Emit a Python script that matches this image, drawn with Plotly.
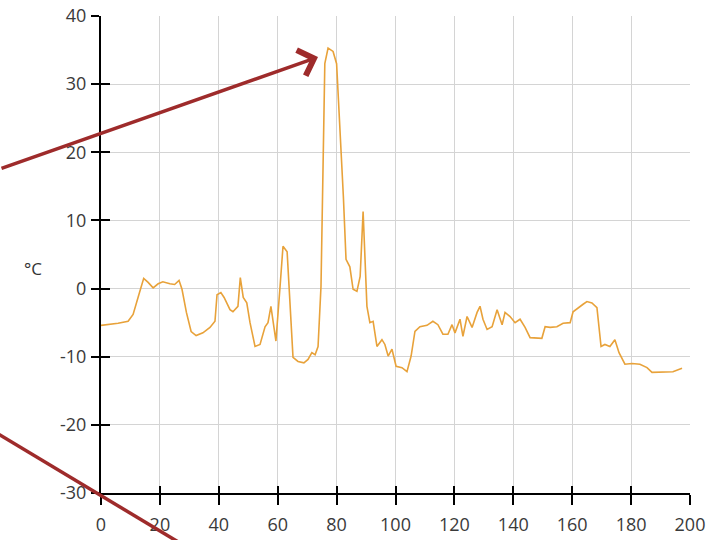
import plotly.graph_objects as go

# Series
x_vals = [0, 5.8, 9.2, 10.9, 13.2, 14.5, 16, 17.7, 19.4, 21,
          23.4, 25, 26.5, 27.5, 29, 30.6, 32.3, 34.6, 37, 38.7,
          39.4, 40.7, 41.8, 43.8, 44.8, 46.5, 47.3, 48.3, 49.5, 50.6,
          52.3, 54, 55.7, 56.7, 57.7, 58.4, 59.4, 60.8, 61.8, 63.2,
          64.2, 65.2, 66.9, 68.9, 70.3, 71.6, 72.7, 73.7, 74.7, 75.4,
          76, 77.1, 78.8, 80, 81.2, 82.3, 83.2, 84.5, 85.6, 86.9,
          88, 89, 90.3, 91.3, 92.4, 93.7, 95.4, 96.4, 97.5, 98.8,
          100.2, 102.2, 103.9, 105.3, 106.6, 108.3, 110.7, 112.7, 114.4, 116.1,
          117.8, 119.2, 120.2, 121.9, 122.9, 124.3, 126, 127.7, 128.7, 129.7,
          131.1, 132.8, 134.5, 136.2, 137.2, 138.9, 140.6, 142.3, 144, 145.7,
          149.7, 150.8, 152.5, 154.8, 156.9, 159.3, 160.3, 162, 163.7, 165,
          166.7, 168.4, 169.8, 171.1, 172.8, 174.5, 175.9, 177.9, 180.3, 183,
          185.4, 187.1, 189.1, 192.2, 194.2, 197.3]

temp_c = [-5.4, -5.1, -4.8, -3.8, -0.4, 1.5, 0.9, 0.1, 0.7, 1.0,
          0.7, 0.6, 1.2, -0.1, -3.5, -6.3, -6.9, -6.5, -5.7, -4.8,
          -0.9, -0.6, -1.3, -3.1, -3.4, -2.6, 1.6, -1.3, -2.1, -5.0,
          -8.5, -8.2, -5.6, -5.0, -2.6, -5.0, -7.7, 0.3, 6.2, 5.4,
          -1.6, -10.1, -10.7, -10.9, -10.4, -9.4, -9.7, -8.5, 0.3, 18.9,
          33.0, 35.3, 34.8, 33.0, 23.3, 13.5, 4.3, 3.2, -0.1, -0.4,
          1.8, 11.3, -2.6, -5.0, -4.8, -8.5, -7.5, -8.2, -9.9, -8.9,
          -11.4, -11.6, -12.2, -9.9, -6.3, -5.6, -5.4, -4.8, -5.3, -6.7,
          -6.7, -5.3, -6.5, -4.5, -7.0, -4.1, -5.7, -3.5, -2.6, -4.5,
          -6.0, -5.6, -3.1, -5.3, -3.5, -4.1, -5.0, -4.5, -5.7, -7.2,
          -7.3, -5.6, -5.7, -5.6, -5.1, -5.0, -3.4, -2.8, -2.3, -1.9,
          -2.1, -2.8, -8.5, -8.2, -8.5, -7.5, -9.4, -11.1, -11.0, -11.1,
          -11.6, -12.3, -12.3, -12.3, -12.2, -11.7]

x_ticks = [0, 20, 40, 60, 80, 100, 120, 140, 160, 180, 200]
x_tick_labels = ["0", "20", "40", "60", "80", "100", "120", "140", "160", "180", "200"]
y_ticks = [-30, -20, -10, 0, 10, 20, 30, 40]
y_tick_labels = ["-30", "-20", "-10", "0", "10", "20", "30", "40"]
y_unit = "°C"

W, H = 720, 540
ML, MR, MT, MB = 101, 30, 16, 47
PW, PH = W - ML - MR, H - MT - MB

def px(xp):
    return (xp - ML) / PW

def py(yp):
    return (H - MB - yp) / PH

ARROW = "#9E2B2B"
TICKFONT = dict(family="Open Sans, DejaVu Sans, sans-serif", size=18, color="#3a3a3a")

fig = go.Figure()
fig.add_trace(go.Scatter(x=x_vals, y=temp_c, mode="lines",
                         line=dict(color="#E8A23A", width=1.6),
                         hoverinfo="x+y", showlegend=False))
# invisible copy so the overlay axes (inside tick halves) are drawn
fig.add_trace(go.Scatter(x=x_vals, y=temp_c, mode="lines", xaxis="x2", yaxis="y2",
                         line=dict(color="rgba(0,0,0,0)", width=0),
                         hoverinfo="skip", showlegend=False))

axis_common = dict(showline=True, linecolor="black", linewidth=2,
                   ticks="outside", tickcolor="black", tickwidth=2,
                   showgrid=True, gridcolor="#d4d4d4", gridwidth=1,
                   zeroline=False, tickfont=TICKFONT, automargin=False)

fig.update_layout(
    width=W, height=H,
    margin=dict(l=ML, r=MR, t=MT, b=MB, autoexpand=False),
    paper_bgcolor="white", plot_bgcolor="white",
    xaxis=dict(range=[0, 200], tickvals=x_ticks, ticktext=x_tick_labels, ticklen=10,
               ticklabelstandoff=4, **axis_common),
    yaxis=dict(range=[-30, 40], tickvals=y_ticks, ticktext=y_tick_labels, ticklen=8,
               ticklabelstandoff=1, **axis_common),
    xaxis2=dict(overlaying="x", matches="x", anchor="y", range=[0, 200], tickvals=x_ticks,
                ticks="inside", ticklen=7, tickwidth=2, tickcolor="black", automargin=False,
                showticklabels=False, showgrid=False, showline=False, zeroline=False),
    yaxis2=dict(overlaying="y", matches="y", anchor="x", range=[-30, 40], tickvals=y_ticks,
                ticks="inside", ticklen=9, tickwidth=2, tickcolor="black", automargin=False,
                showticklabels=False, showgrid=False, showline=False, zeroline=False),
    showlegend=False,
)

fig.add_annotation(xref="paper", yref="paper", x=px(33), y=py(268),
                   text=y_unit, showarrow=False, xanchor="center", yanchor="middle",
                   font=dict(family="Open Sans, DejaVu Sans, sans-serif", size=17, color="#333333"))

# Arrow pointing at the peak
fig.add_annotation(xref="paper", yref="paper", x=px(318), y=py(57),
                   axref="pixel", ayref="pixel", ax=-330, ay=112,
                   text="", showarrow=True, arrowhead=4, arrowsize=1.5,
                   arrowwidth=3.5, arrowcolor=ARROW, standoff=0)

# Second arrow line running off the bottom
fig.add_shape(type="line", xref="paper", yref="paper",
              x0=px(-5), y0=py(432), x1=px(205), y1=py(558),
              line=dict(color=ARROW, width=3.5), layer="above")

fig.write_html("out.html")
